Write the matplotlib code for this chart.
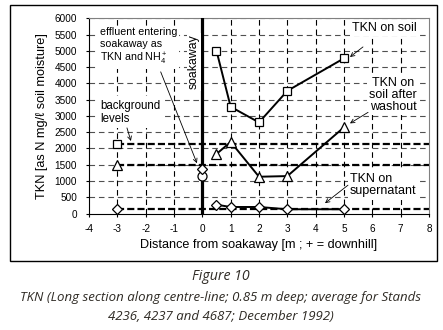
import matplotlib
matplotlib.use("Agg")
import matplotlib.pyplot as plt
from matplotlib.patches import Rectangle

# ---- data ----
distance = [0.5, 1, 2, 3, 5]
tkn_soil = [5000, 3280, 2800, 3770, 4770]
tkn_washout = [1830, 2200, 1130, 1150, 2650]
tkn_supernatant = [270, 200, 200, 130, 130]

background_x = [-3]
background_soil = [2130]
background_washout = [1500]
background_supernatant = [130]

effluent_x = [0]
effluent_tkn = [1380]
effluent_nh4 = [1150]

x_ticks = list(range(-4, 9))
y_ticks = list(range(0, 6001, 500))

plt.rcParams['font.family'] = ['Liberation Sans', 'DejaVu Sans']
plt.rcParams['mathtext.fontset'] = 'custom'
plt.rcParams['mathtext.rm'] = 'Liberation Sans'
plt.rcParams['mathtext.it'] = 'Liberation Sans:italic'
plt.rcParams['axes.unicode_minus'] = False

fig = plt.figure(figsize=(4.43, 3.30), dpi=100)
ax = fig.add_axes([89/443, 1-213.5/330, (429-89)/443, (213.5-18.3)/330])

ax.set_xlim(-4, 8)
ax.set_ylim(0, 6000)
ax.set_xticks(x_ticks)
ax.set_yticks(y_ticks)
ax.tick_params(direction='out', length=2.5, width=0.8, labelsize=7.2, colors='black')
ax.tick_params(axis='y', pad=6)
ax.tick_params(axis='x', pad=5)

# grid
for yv in y_ticks[1:]:
    ax.axhline(yv, color='#505050', lw=0.8, dashes=(5, 3.5), zorder=1)
for xv in x_ticks[1:-1]:
    ax.axvline(xv, color='black', lw=0.8, dashes=(5, 3.5), zorder=1)

for s in ['top', 'right']:
    ax.spines[s].set_color('#808080')
for s in ['left', 'bottom']:
    ax.spines[s].set_color('black')

# background levels
for lvl in (background_soil[0], background_washout[0], background_supernatant[0]):
    ax.plot([background_x[0], 8], [lvl, lvl], color='black', lw=1.6, dashes=(3.2, 1.4), zorder=2)

# soakaway
ax.axvline(0, color='black', lw=2.3, zorder=3)

mk = dict(color='black', mfc='white', mec='black', mew=0.9, zorder=5)
ax.plot(distance, tkn_soil, marker='s', ms=6, lw=1.4, **mk)
ax.plot(distance, tkn_washout, marker='^', ms=7, lw=1.4, **mk)
ax.plot(distance, tkn_supernatant, marker='D', ms=5.3, lw=1.4, **mk)
ax.plot(background_x, background_soil, marker='s', ms=6, ls='none', **mk)
ax.plot(background_x, background_washout, marker='^', ms=7, ls='none', **mk)
ax.plot(background_x, background_supernatant, marker='D', ms=5.3, ls='none', **mk)
ax.plot(effluent_x, effluent_nh4, marker='o', ms=6.5, ls='none', **mk)
ax.plot(effluent_x, effluent_tkn, marker='D', ms=5.3, ls='none', **mk)

box = dict(fc='white', ec='none', pad=1.5)
ax.text(-3.61, 5740, 'effluent entering\nsoakaway as\nTKN and $\\mathrm{NH}_4^+$', fontsize=7.7,
        ha='left', va='top', linespacing=1.22, zorder=4, bbox=box)
ax.text(-0.29, 4660, 'soakaway', fontsize=8.8, rotation=90, ha='center', va='center', zorder=4,
        bbox=dict(fc='white', ec='none', pad=1.0))
ax.text(-3.61, 3108, 'background\nlevels', fontsize=8.3, ha='left', va='center',
        linespacing=1.13, zorder=4, bbox=dict(fc='white', ec='none', pad=2.5))
ax.text(5.28, 5708, 'TKN on soil', fontsize=9, ha='left', va='center', zorder=4, bbox=box)
ax.text(6.73, 3646, 'TKN on\nsoil after\nwashout', fontsize=9, ha='center', va='center',
        linespacing=1.0, zorder=4, bbox=box)
ax.text(5.21, 862, 'TKN on\nsupernatant', fontsize=9, ha='left', va='center',
        linespacing=1.0, zorder=4, bbox=box)

ap = dict(arrowstyle='->', color='black', lw=0.6, shrinkA=0, shrinkB=0, mutation_scale=7)
ax.annotate('', xy=(-0.19, 1545), xytext=(-1.47, 4354), arrowprops=ap, zorder=6)
ax.annotate('', xy=(-2.52, 2228), xytext=(-2.66, 2631), arrowprops=ap, zorder=6)
ax.annotate('', xy=(5.21, 4810), xytext=(5.67, 5120), arrowprops=ap, zorder=6)
ax.annotate('', xy=(5.21, 2770), xytext=(5.85, 3110), arrowprops=ap, zorder=6)
ax.annotate('', xy=(4.33, 317), xytext=(5.14, 870), arrowprops=ap, zorder=6)

ax.set_xlabel('Distance from soakaway [m ; + = downhill]', fontsize=9.1, labelpad=4)
ax.set_ylabel('TKN [as N mg/ℓ soil moisture]', fontsize=9.2, labelpad=5)

# outer frame
fig.patches.append(Rectangle((10/443, 1-261/330), (437-10)/443, (261-5)/330,
                             transform=fig.transFigure, fill=False, ec='black', lw=1.0))

cap = dict(family=['Open Sans', 'DejaVu Sans'], style='italic', color='#2e2a24', ha='center', va='center')
fig.text(221/443, 1-277/330, 'Figure 10', fontsize=10.2, **cap)
fig.text(221/443, 1-297/330, 'TKN (Long section along centre-line; 0.85 m deep; average for Stands',
         fontsize=9.5, **cap)
fig.text(221/443, 1-316/330, '4236, 4237 and 4687; December 1992)', fontsize=9.5, **cap)

fig.savefig('out.png', dpi=100)
